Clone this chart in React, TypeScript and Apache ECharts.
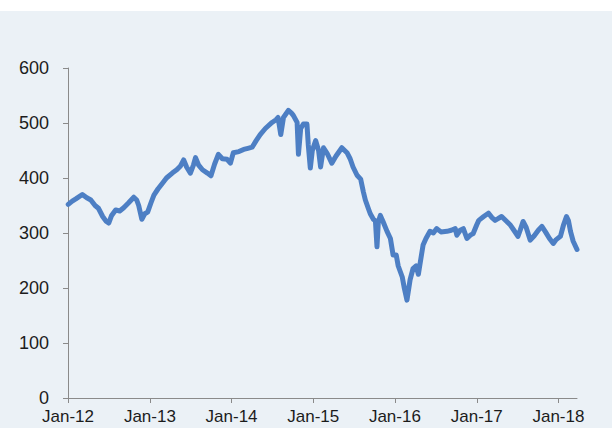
import React, { useEffect, useRef } from "react";
import * as echarts from "echarts";

const dates: string[] = [
  "2012-01-02","2012-01-20","2012-02-05","2012-03-05","2012-03-25","2012-04-12","2012-05-01","2012-05-16","2012-06-04","2012-06-18",
  "2012-07-01","2012-07-14","2012-08-01","2012-08-19","2012-09-06","2012-09-28","2012-10-21","2012-11-03","2012-11-12","2012-11-26",
  "2012-12-09","2012-12-22","2013-01-06","2013-01-19","2013-02-06","2013-02-27","2013-03-16","2013-04-11","2013-05-01","2013-05-18",
  "2013-06-01","2013-06-14","2013-07-01","2013-07-15","2013-07-24","2013-08-06","2013-08-24","2013-09-15","2013-10-01","2013-10-17",
  "2013-11-03","2013-11-21","2013-12-12","2013-12-27","2014-01-09","2014-02-03","2014-02-24","2014-03-15","2014-04-03","2014-04-21",
  "2014-05-09","2014-06-01","2014-07-01","2014-07-19","2014-07-28","2014-08-09","2014-08-21","2014-09-12","2014-09-26","2014-10-04",
  "2014-10-21","2014-10-27","2014-11-06","2014-11-18","2014-12-04","2014-12-10","2014-12-19","2014-12-28","2015-01-12","2015-01-25",
  "2015-02-03","2015-02-16","2015-03-04","2015-03-25","2015-04-13","2015-05-09","2015-06-01","2015-06-15","2015-06-28","2015-07-16",
  "2015-08-01","2015-08-13","2015-08-22","2015-09-04","2015-09-13","2015-09-27","2015-10-06","2015-10-13","2015-10-19","2015-10-28",
  "2015-11-09","2015-11-27","2015-12-12","2015-12-24","2016-01-07","2016-01-16","2016-02-03","2016-02-12","2016-02-24","2016-03-09",
  "2016-03-22","2016-04-05","2016-04-15","2016-04-28","2016-05-06","2016-05-19","2016-06-06","2016-06-21","2016-07-06","2016-07-25",
  "2016-08-21","2016-09-09","2016-09-27","2016-10-04","2016-10-19","2016-11-02","2016-11-18","2016-12-03","2016-12-16","2017-01-01",
  "2017-01-10","2017-02-01","2017-02-22","2017-03-10","2017-03-24","2017-04-06","2017-04-22","2017-05-07","2017-06-01","2017-06-16",
  "2017-07-04","2017-07-14","2017-07-27","2017-08-10","2017-08-28","2017-09-15","2017-10-03","2017-10-19","2017-11-04","2017-11-22",
  "2017-12-09","2017-12-22","2018-01-10","2018-01-24","2018-02-06","2018-02-15","2018-02-24","2018-03-08","2018-03-25"
];

const values: number[] = [
  352,358,362,370,364,360,350,345,330,322,
  318,332,342,340,346,355,365,360,350,325,
  335,338,355,369,380,391,400,409,415,422,
  433,420,409,424,437,424,415,409,404,425,
  443,435,434,427,446,448,452,454,456,468,
  479,490,501,506,510,479,510,523,518,514,
  501,443,490,498,498,460,418,450,468,450,
  420,455,445,427,440,455,446,435,420,405,
  398,375,360,345,335,325,322,275,320,332,
  321,303,290,260,260,240,220,200,178,215,
  235,240,225,258,278,290,303,300,308,302,
  303,305,308,296,305,308,290,296,299,315,
  323,330,336,328,323,326,330,324,314,305,
  294,305,321,310,287,295,305,312,302,290,
  281,288,294,315,330,322,303,285,270
];

const yTicks: number[] = [0, 100, 200, 300, 400, 500, 600];
const xTickYears: number[] = [2012, 2013, 2014, 2015, 2016, 2017, 2018];

function toTs(d: string): number {
  const [y, m, day] = d.split("-").map(Number);
  return Date.UTC(y, m - 1, day);
}

export default function App() {
  const ref = useRef<HTMLDivElement>(null);
  useEffect(() => {
    if (!ref.current) return;
    const chart = echarts.init(ref.current, undefined, { renderer: "svg" });
    const data = dates.map((d, i) => [toTs(d), values[i]]);
    const tickTs = xTickYears.map((y) => Date.UTC(y, 0, 1));
    const font = "'Liberation Sans', Arial, sans-serif";
    chart.setOption({
      animation: false,
      backgroundColor: "#ffffff",
      graphic: [
        {
          type: "rect",
          z: -10,
          silent: true,
          shape: { x: 0, y: 11, width: 612, height: 417 },
          style: { fill: "#ebf1f6" },
        },
      ],
      grid: { left: 68, right: 35, top: 68, bottom: 30, containLabel: false },
      xAxis: {
        type: "value",
        min: tickTs[0],
        max: toTs(dates[dates.length - 1]),
        axisLine: { show: true, lineStyle: { color: "#8a8a8a", width: 1 } },
        axisTick: {
          show: true,
          length: 5,
          customValues: tickTs,
          lineStyle: { color: "#8a8a8a" },
        },
        axisLabel: {
          customValues: tickTs,
          color: "#1c1c1c",
          fontSize: 17,
          fontFamily: font,
          margin: 10,
          formatter: (v: number) => "Jan-" + String(new Date(v).getUTCFullYear()).slice(2),
        },
        splitLine: { show: false },
      },
      yAxis: {
        type: "value",
        min: yTicks[0],
        max: yTicks[yTicks.length - 1],
        interval: 100,
        axisLine: { show: true, lineStyle: { color: "#8a8a8a", width: 1 } },
        axisTick: { show: true, length: 5, lineStyle: { color: "#8a8a8a" } },
        axisLabel: { color: "#1c1c1c", fontSize: 18, fontFamily: font, margin: 19 },
        splitLine: { show: false },
      },
      series: [
        {
          type: "line",
          data,
          symbol: "none",
          lineStyle: { color: "#4d7fc4", width: 5, join: "round", cap: "round" },
          itemStyle: { color: "#4d7fc4" },
        },
      ],
    });
    return () => chart.dispose();
  }, []);
  return (
    <div
      ref={ref}
      style={{ position: "fixed", left: 0, top: 0, width: 612, height: 428 }}
    />
  );
}
